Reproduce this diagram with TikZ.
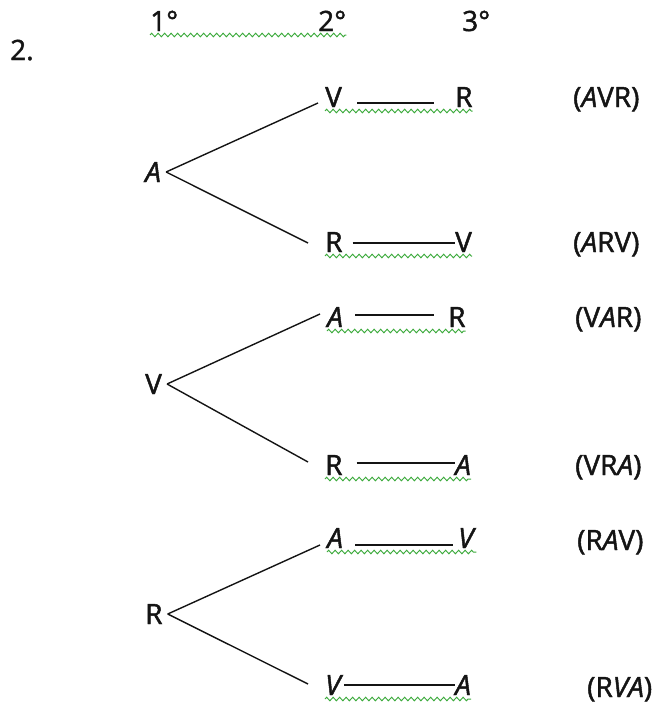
\documentclass[tikz,border=0pt]{standalone}
\usepackage{fontspec}
\setmainfont{Open Sans}[FakeBold=1.6,AutoFakeBold=1.6]
\usetikzlibrary{decorations.pathmorphing}
\definecolor{squig}{RGB}{60,170,60}
\definecolor{ink}{RGB}{20,20,20}
\begin{document}
\begin{tikzpicture}[x=1pt,y=-1pt,
  txt/.style={inner sep=0pt,anchor=base west,font=\fontsize{28}{30}\selectfont\bfseries,text=ink},
  rootnode/.style={txt,inner xsep=5pt,anchor=base west},
  branch/.style={draw=ink,line width=1.4pt},
  dashline/.style={draw=ink,line width=1.4pt},
  squiggle/.style={draw=squig,line width=1pt,decorate,decoration={zigzag,amplitude=1.7pt,segment length=6.5pt}}]
\useasboundingbox (0,0) rectangle (671,704);

% header
\node[txt] (num) at (10,60) {2.};
\node[txt] (h1) at (150,31) {1°};
\node[txt] (h2) at (318,31) {2°};
\node[txt] (h3) at (462,31) {3°};
\draw[squiggle] ([yshift=-4pt]h1.base west) -- ([yshift=-4pt]h2.base east);

% tree 1
\node[rootnode] (a1) at (140,182) {\textit{A}};
\node[txt] (v1) at (325,107) {V};
\node[txt] (r1) at (455,107) {R};
\node[txt] (r2) at (325,252) {R};
\node[txt] (v2) at (455,252) {V};
\node[txt] (l1) at (573,107) {(\textit{A}VR)};
\node[txt] (l2) at (573,252) {(\textit{A}RV)};
\draw[branch] (a1.east) -- ([xshift=-7pt,yshift=4pt]v1.base west);
\draw[branch] (a1.east) -- ([xshift=-17pt,yshift=9pt]r2.base west);
\draw[dashline] ([xshift=15pt,yshift=4pt]v1.base east) -- ([xshift=-21pt,yshift=4pt]r1.base west);
\draw[dashline] ([xshift=10pt,yshift=9pt]r2.base east) -- ([yshift=9pt]v2.base west);
\draw[squiggle] ([yshift=-4pt]v1.base west) -- ([yshift=-4pt]r1.base east);
\draw[squiggle] ([yshift=-4pt]r2.base west) -- ([yshift=-4pt]v2.base east);

% tree 2
\node[rootnode] (v3) at (140,394) {V};
\node[txt] (a3) at (327,327) {\textit{A}};
\node[txt] (r3) at (448,327) {R};
\node[txt] (r4) at (325,475) {R};
\node[txt] (a4) at (455,475) {\textit{A}};
\node[txt] (l3) at (575,327) {(V\textit{A}R)};
\node[txt] (l4) at (575,475) {(VR\textit{A})};
\draw[branch] (v3.east) -- ([xshift=-7pt,yshift=13pt]a3.base west);
\draw[branch] (v3.east) -- ([xshift=-17pt,yshift=13pt]r4.base west);
\draw[dashline] ([xshift=12pt,yshift=12pt]a3.base east) -- ([xshift=-14pt,yshift=12pt]r3.base west);
\draw[dashline] ([xshift=14pt,yshift=12pt]r4.base east) -- ([yshift=12pt]a4.base west);
\draw[squiggle] ([yshift=-4pt]a3.base west) -- ([yshift=-4pt]r3.base east);
\draw[squiggle] ([yshift=-4pt]r4.base west) -- ([yshift=-4pt]a4.base east);

% tree 3
\node[rootnode] (r5) at (140,624) {R};
\node[txt] (a5) at (327,548) {\textit{A}};
\node[txt] (v5) at (458,548) {\textit{V}};
\node[txt] (v6) at (325,695) {\textit{V}};
\node[txt] (a6) at (455,695) {\textit{A}};
\node[txt] (l5) at (577,550) {(R\textit{A}V)};
\node[txt] (l6) at (587,697) {(R\textit{VA})};
\draw[branch] (r5.east) -- ([xshift=-7pt,yshift=3pt]a5.base west);
\draw[branch] (r5.east) -- ([xshift=-17pt,yshift=11pt]v6.base west);
\draw[dashline] ([xshift=12pt,yshift=3pt]a5.base east) -- ([xshift=-5pt,yshift=3pt]v5.base west);
\draw[dashline] ([xshift=1pt,yshift=10pt]v6.base east) -- ([yshift=10pt]a6.base west);
\draw[squiggle] ([yshift=-4pt]a5.base west) -- ([yshift=-4pt]v5.base east);
\draw[squiggle] ([yshift=-4pt]v6.base west) -- ([yshift=-4pt]a6.base east);
\end{tikzpicture}
\end{document}
